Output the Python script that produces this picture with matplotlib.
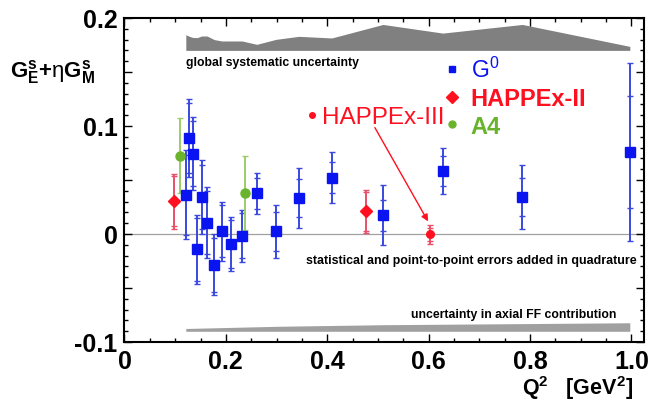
import matplotlib
matplotlib.use("Agg")
import matplotlib.pyplot as plt
from matplotlib.lines import Line2D
from matplotlib.ticker import MultipleLocator, FuncFormatter

plt.rcParams["font.family"] = ["Liberation Sans", "DejaVu Sans"]
plt.rcParams["mathtext.fontset"] = "custom"
plt.rcParams["mathtext.rm"] = "Liberation Sans"
plt.rcParams["mathtext.bf"] = "Liberation Sans:bold"
plt.rcParams["mathtext.it"] = "Liberation Sans:italic"
plt.rcParams["mathtext.default"] = "regular"

# G0 forward-angle results
g0_q2 = [0.121, 0.128, 0.1345, 0.1436, 0.152, 0.163, 0.177, 0.192, 0.210, 0.232,
         0.261, 0.299, 0.344, 0.409, 0.510, 0.628, 0.785, 0.997]
g0_val = [0.0365, 0.0889, 0.0743, -0.0142, 0.0343, 0.0105, -0.0284, 0.0024, -0.0093, -0.0016,
          0.0376, 0.0024, 0.0333, 0.0521, 0.0172, 0.0580, 0.0343, 0.0759]
g0_stat = [0.037, 0.032, 0.030, 0.029, 0.030, 0.029, 0.025, 0.024, 0.022, 0.021,
           0.0145, 0.0184, 0.0174, 0.0144, 0.0145, 0.0140, 0.0176, 0.0515]
g0_tot = [0.041, 0.036, 0.034, 0.032, 0.034, 0.033, 0.028, 0.027, 0.025, 0.024,
          0.0188, 0.0245, 0.0282, 0.0236, 0.0278, 0.0214, 0.0300, 0.0820]
# global systematic band (top edge at each G0 point)
g0_glob = [0.1845, 0.1830, 0.1820, 0.1818, 0.1833, 0.1833, 0.1800, 0.1787, 0.1787, 0.1787,
           0.1756, 0.1802, 0.1830, 0.1815, 0.1940, 0.1860, 0.1940, 0.1737]
glob_base = 0.170

# axial form factor band
axial_q2 = [0.121, 0.299, 0.510, 0.785, 0.997]
axial_top = [-0.0875, -0.0855, -0.0840, -0.0830, -0.0822]
axial_base = -0.0901

happex2_q2 = [0.098, 0.476]
happex2_val = [0.0304, 0.0209]
happex2_stat = [0.023, 0.018]
happex2_tot = [0.0255, 0.0200]

happex3_q2 = [0.603]
happex3_val = [-0.0003]
happex3_stat = [0.006]
happex3_tot = [0.0086]

a4_q2 = [0.109, 0.237]
a4_val = [0.0725, 0.0382]
a4_tot = [0.035, 0.0343]

blue, blue_e = "#0a14f0", "#3a48e0"
red, red_e = "#ff1020", "#e8506a"
green, green_e = "#6ab42d", "#9ccc6a"

fig = plt.figure(figsize=(6.49, 4.02), dpi=100)
ax = fig.add_axes([0.1918, 0.1468, 0.8005, 0.806])

ax.axhline(0, color="#a0a0a0", lw=0.9, zorder=0)

ax.fill_between(g0_q2, glob_base, g0_glob, color="#808080", lw=0)
ax.fill_between(axial_q2, axial_base, axial_top, color="#a0a0a0", lw=0)


def points(x, y, tot, stat, mcol, ecol, marker, ms):
    ax.errorbar(x, y, yerr=tot, fmt="none", ecolor=ecol, elinewidth=1.4,
                capsize=2.5, capthick=1)
    if stat is not None:
        ax.errorbar(x, y, yerr=stat, fmt="none", ecolor=ecol, elinewidth=0,
                    capsize=2, capthick=1)
    ax.plot(x, y, marker, ls="none", color=mcol, ms=ms, zorder=3)


points(g0_q2, g0_val, g0_tot, g0_stat, blue, blue_e, "s", 6.5)
points(happex2_q2, happex2_val, happex2_tot, happex2_stat, red, red_e, "D", 6)
points(happex3_q2, happex3_val, happex3_tot, happex3_stat, red, red_e, "o", 5.5)
points(a4_q2, a4_val, a4_tot, None, green, green_e, "o", 6.5)

ax.set_xlim(0, 1.025)
ax.set_ylim(-0.1, 0.2)
ax.xaxis.set_major_locator(MultipleLocator(0.2))
ax.xaxis.set_minor_locator(MultipleLocator(0.05))
ax.yaxis.set_major_locator(MultipleLocator(0.05))
ax.yaxis.set_minor_locator(MultipleLocator(0.01))


def fmt(v, pos):
    if abs(v) < 1e-9:
        return "0"
    if abs(v * 10 - round(v * 10)) > 1e-6:
        return ""
    return f"{v:.1f}"


ax.xaxis.set_major_formatter(FuncFormatter(fmt))
ax.yaxis.set_major_formatter(FuncFormatter(fmt))
ax.tick_params(which="both", direction="in", top=True, right=True, width=1)
ax.tick_params(which="major", length=6, pad=5, labelsize=18)
ax.tick_params(which="minor", length=3)
for lab in ax.get_xticklabels() + ax.get_yticklabels():
    lab.set_fontweight("bold")
for sp in ax.spines.values():
    sp.set_linewidth(1.5)

ax.text(0.122, 0.1595, "global systematic uncertainty", fontsize=8.8,
        fontweight="bold", ha="left", va="center")
ax.text(1.010, -0.0244, "statistical and point-to-point errors added in quadrature",
        fontsize=8.95, fontweight="bold", ha="right", va="center")
ax.text(0.971, -0.0744, "uncertainty in axial FF contribution", fontsize=8.8,
        fontweight="bold", ha="right", va="center")

handles = [Line2D([], [], marker="s", ls="none", color=blue, ms=5),
           Line2D([], [], marker="D", ls="none", color=red, ms=6),
           Line2D([], [], marker="o", ls="none", color=green, ms=5)]
leg = ax.legend(handles, [r"G$^{0}$", "HAPPEx-II", "A4"], loc="upper left",
                bbox_to_anchor=(0.619, 0.88), frameon=False, fontsize=17,
                handlelength=0.5, handletextpad=0.55, labelspacing=0.2,
                borderpad=0, borderaxespad=0)
for txt, col, wt, sz in zip(leg.get_texts(), [blue, red, green],
                            ["normal", "bold", "bold"], [16.5, 17, 17]):
    txt.set_color(col)
    txt.set_fontweight(wt)
    txt.set_fontsize(sz)
ax.add_artist(leg)

leg3 = ax.legend([Line2D([], [], marker="o", ls="none", color=red, ms=4)],
                 ["HAPPEx-III"], loc="upper left", bbox_to_anchor=(0.354, 0.727),
                 frameon=False, fontsize=17.5, handlelength=0.3, handletextpad=0.27,
                 borderpad=0, borderaxespad=0, labelcolor=red)

ax.annotate("", xy=(happex3_q2[0], happex3_val[0] + happex3_tot[0]),
            xytext=(0.494, 0.0985),
            arrowprops=dict(arrowstyle="-|>", color=red, lw=1, shrinkA=0,
                            shrinkB=3, mutation_scale=10))

fig.text(0.0154, 1 - 77 / 402, r"$\mathbf{G^{s}_{E}{+}}\mathrm{\eta}\mathbf{G^{s}_{M}}$",
         fontsize=16, ha="left", va="baseline")
fig.text(0.975, 1 - 395 / 402, r"Q$\mathbf{^{2}}$   [GeV$\mathbf{^{2}}$]", fontsize=15.5,
         fontweight="bold", ha="right", va="baseline")

fig.savefig("out.png", dpi=100)
